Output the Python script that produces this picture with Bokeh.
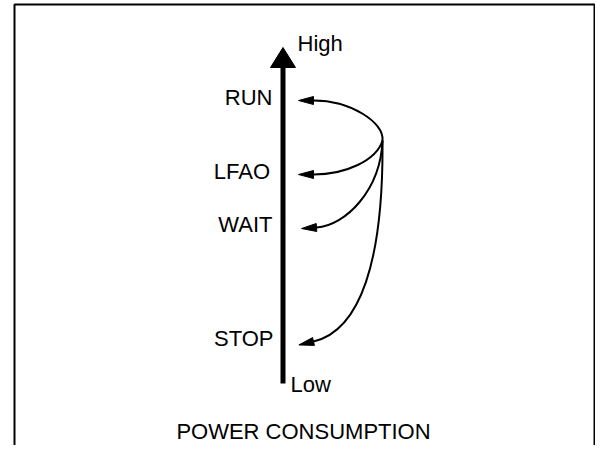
import numpy as np
from bokeh.plotting import figure
from bokeh.models import Range1d
from bokeh.core.properties import value
from bokeh.embed import file_html
from bokeh.resources import INLINE

# ---- data ----
states = ["RUN", "LFAO", "WAIT", "STOP"]
state_level = [100, 174, 227, 341]          # position of each state on the power axis
axis_labels = ["High", "Low"]
title_text = "POWER CONSUMPTION"

# ---- layout constants (screen-like coordinates, y grows downward) ----
W, H = 595, 445
FONT = value("Liberation Sans")
FS = "22px"

p = figure(width=W, height=H, output_backend="svg", toolbar_location=None,
           x_range=Range1d(0, W), y_range=Range1d(H, 0),
           min_border=0, outline_line_color=None, background_fill_color="white",
           border_fill_color="white")
p.axis.visible = False
p.grid.visible = False

# frame border
p.line([14, 14, 594, 594], [470, 4, 4, 470], line_color="black", line_width=2)

# main power axis
ax_x = 282.5
axis_top, axis_bottom = 47, 383
p.segment(x0=[ax_x], y0=[axis_bottom], x1=[ax_x], y1=[axis_top + 18],
          line_color="black", line_width=5)
p.patch([ax_x, ax_x - 12.5, ax_x + 12.5], [axis_top, axis_top + 20, axis_top + 20],
        fill_color="black", line_color="black")

# axis end labels
p.text(x=[297], y=[43], text=[axis_labels[0]], text_font=FONT, text_font_size=FS,
       text_align="left", text_baseline="middle", text_color="black")
p.text(x=[290], y=[384], text=[axis_labels[1]], text_font=FONT, text_font_size=FS,
       text_align="left", text_baseline="middle", text_color="black")

# state labels
p.text(x=[272, 269.5, 272, 273], y=[lv - 3 for lv in state_level], text=states,
       text_font=FONT, text_font_size=FS, text_align="right",
       text_baseline="middle", text_color="black")

# title
p.text(x=[303], y=[431], text=[title_text], text_font=FONT, text_font_size=FS,
       text_align="center", text_baseline="middle", text_color="black")

# transition curves from common origin to each state
origin = (382, 140)
end_x = [313, 313, 316, 313]
c0 = [(384, 122), (376, 160), (380, 190), (383, 260)]
c1 = [(350, 100), (345, 174), (345, 225), (360, 330)]
p.bezier(x0=[origin[0]] * 4, y0=[origin[1]] * 4,
         x1=end_x, y1=state_level,
         cx0=[c[0] for c in c0], cy0=[c[1] for c in c0],
         cx1=[c[0] for c in c1], cy1=[c[1] for c in c1],
         line_color="black", line_width=2)

# arrowheads along end tangent
hx, hy = [], []
for ex, ey, (cx, cy) in zip(end_x, state_level, c1):
    d = np.array([ex - cx, ey - cy], dtype=float)
    u = d / np.linalg.norm(d)
    n = np.array([-u[1], u[0]])
    tip = np.array([ex, ey]) + u * 15
    b1 = np.array([ex, ey]) + n * 4
    b2 = np.array([ex, ey]) - n * 4
    hx.append([tip[0], b1[0], b2[0]])
    hy.append([tip[1], b1[1], b2[1]])
p.patches(hx, hy, fill_color="black", line_color="black", line_width=1)

open("out.html", "w").write(file_html(p, INLINE))
